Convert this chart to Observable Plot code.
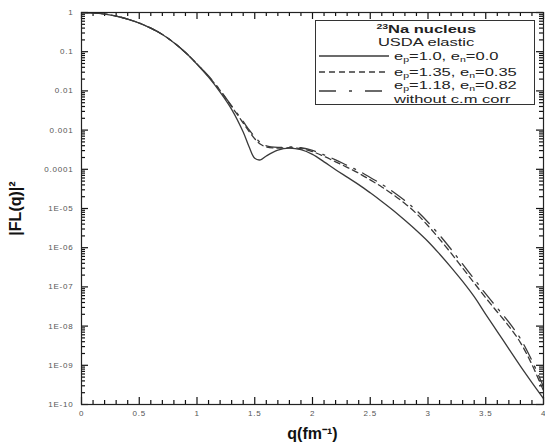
<!DOCTYPE html>
<html>
<head>
<meta charset="utf-8">
<script src="https://cdn.jsdelivr.net/npm/d3@7"></script>
<script src="https://cdn.jsdelivr.net/npm/@observablehq/plot@0.6"></script>
<style>
  body { margin: 0; background: #fff; }
  #wrap { position: relative; width: 545px; height: 444px; font-family: "Liberation Sans", Arial, sans-serif; }
  #chart > svg { position: absolute; left: 0; top: 0; }
  g[aria-label="y-axis label"] text, g[aria-label="x-axis label"] text { font-size: 16px; font-weight: bold; fill: #111; }
  g[aria-label="y-axis tick label"] text, g[aria-label="x-axis tick label"] text { letter-spacing: 0.8px; }
  #legend { position: absolute; left: 315px; top: 20px; width: 220px; height: 85px; border: 1.3px solid #333; background: #fff; box-sizing: border-box; color: #222; }
  #legend .c { position: absolute; left: 0; width: 220px; text-align: center; line-height: 11px; height: 11px; }
  #legend .c span { display: inline-block; transform: scaleX(1.5); }
  #legend .t1 { font-size: 11px; font-weight: bold; }
  #legend .t2 { font-size: 11px; }
  #legend .e { position: absolute; left: 78px; font-size: 11px; line-height: 12px; transform: scaleX(1.5); transform-origin: left center; white-space: nowrap; }
  #legend svg.s { position: absolute; left: 3px; }
  #legend sub { font-size: 7px; vertical-align: -2px; line-height: 0; }
  #legend sup { font-size: 7px; vertical-align: 4px; line-height: 0; }
</style>
</head>
<body>
<div id="wrap">
  <div id="chart"></div>
  <div id="legend"></div>
</div>
<script>
// ---- data ----
const qValues = [0, 0.1, 0.2, 0.3, 0.4, 0.5, 0.6, 0.7, 0.8, 0.9, 1.0, 1.1, 1.2, 1.3, 1.4, 1.45, 1.5, 1.55, 1.6, 1.7, 1.8, 1.9, 2.0, 2.1, 2.2, 2.3, 2.4, 2.5, 2.6, 2.7, 2.8, 2.9, 3.0, 3.1, 3.2, 3.3, 3.4, 3.5, 3.6, 3.7, 3.8, 3.9, 4.0];
// log10 |F_L(q)|^2
const logF_e10 = [0, -0.01, -0.04, -0.09, -0.17, -0.27, -0.40, -0.56, -0.77, -1.02, -1.32, -1.65, -2.03, -2.47, -3.05, -3.42, -3.72, -3.76, -3.66, -3.51, -3.46, -3.50, -3.62, -3.81, -4.01, -4.20, -4.39, -4.60, -4.82, -5.05, -5.30, -5.56, -5.84, -6.16, -6.50, -6.86, -7.25, -7.70, -8.14, -8.58, -9.02, -9.44, -9.85];
const logF_e135 = [0, -0.01, -0.04, -0.09, -0.17, -0.27, -0.40, -0.56, -0.77, -1.02, -1.31, -1.63, -1.99, -2.40, -2.82, -3.03, -3.22, -3.36, -3.43, -3.46, -3.45, -3.47, -3.55, -3.67, -3.81, -3.95, -4.10, -4.27, -4.45, -4.65, -4.87, -5.13, -5.44, -5.78, -6.14, -6.52, -6.90, -7.28, -7.64, -8.00, -8.42, -8.98, -9.65];
const logF_e118 = [0, -0.01, -0.04, -0.09, -0.17, -0.27, -0.40, -0.56, -0.77, -1.02, -1.31, -1.62, -1.98, -2.38, -2.78, -2.99, -3.17, -3.32, -3.40, -3.44, -3.43, -3.45, -3.52, -3.63, -3.76, -3.90, -4.04, -4.21, -4.38, -4.58, -4.80, -5.05, -5.35, -5.68, -6.04, -6.42, -6.80, -7.18, -7.54, -7.90, -8.32, -8.88, -9.55];

const xMajorTicks = [0, 0.5, 1, 1.5, 2, 2.5, 3, 3.5, 4];
const xTickLabels = ["0", "0.5", "1", "1.5", "2", "2.5", "3", "3.5", "4"];
const xMinorTicks = [0.1,0.2,0.3,0.4,0.6,0.7,0.8,0.9,1.1,1.2,1.3,1.4,1.6,1.7,1.8,1.9,2.1,2.2,2.3,2.4,2.6,2.7,2.8,2.9,3.1,3.2,3.3,3.4,3.6,3.7,3.8,3.9];
const yMajorTicks = [1, 1e-1, 1e-2, 1e-3, 1e-4, 1e-5, 1e-6, 1e-7, 1e-8, 1e-9, 1e-10];
const yTickLabels = ["1", "0.1", "0.01", "0.001", "0.0001", "1E-05", "1E-06", "1E-07", "1E-08", "1E-09", "1E-10"];
const yMinorMultipliers = [2, 3, 4, 5, 6, 7, 8, 9];

const seriesNames = ["e1.0", "e1.35", "e1.18"];
const xTitle = "q(fm\u207B\u00B9)";
const yTitle = "|FL(q)|\u00B2";

// ---- build ----
const rows = [];
[logF_e10, logF_e135, logF_e118].forEach((arr, i) => {
  arr.forEach((v, j) => rows.push({series: seriesNames[i], q: qValues[j], F: Math.pow(10, v)}));
});
const yMinorTicks = [];
for (let k = 1; k < yMajorTicks.length; k++) for (const m of yMinorMultipliers) yMinorTicks.push(m * yMajorTicks[k]);
const xFmt = d => xTickLabels[xMajorTicks.indexOf(d)];
const yFmt = d => yTickLabels[yMajorTicks.findIndex(t => Math.abs(Math.log10(t) - Math.log10(d)) < 1e-6)];

const W = 545, H = 444, ML = 81, MR = 2, MT = 12, MB = 40;
const FW = W - ML - MR, FH = H - MT - MB;

const lineColor = "#3a3a3a";
const styles = {
  "e1.0": {},
  "e1.35": {strokeDasharray: "6,4"},
  "e1.18": {strokeDasharray: "16,8,2,8"}
};

const tickStroke = "#111";
const major = 7, minor = 4;
const tk = {stroke: tickStroke, strokeWidth: 1.2};

const plot = Plot.plot({
  width: W,
  height: H,
  marginLeft: ML,
  marginRight: MR,
  marginTop: MT,
  marginBottom: MB,
  style: {fontFamily: "'Liberation Sans', Arial, sans-serif", fontSize: "8px", color: "#555", background: "transparent"},
  x: {domain: [0, 4]},
  y: {type: "log", domain: [1e-10, 1]},
  marks: [
    Plot.axisX({anchor: "bottom", ticks: xMajorTicks, tickFormat: xFmt, tickSize: 0, tickPadding: 6, label: xTitle, labelAnchor: "center", labelArrow: "none", labelOffset: 34}),
    Plot.axisY({anchor: "left", ticks: yMajorTicks, tickFormat: yFmt, tickSize: 0, tickPadding: 8, label: yTitle, labelAnchor: "center", labelArrow: "none", labelOffset: 72}),
    // inward ticks on all four sides
    Plot.tickX(xMajorTicks, {x: d => d, insetTop: FH - major, ...tk}),
    Plot.tickX(xMinorTicks, {x: d => d, insetTop: FH - minor, ...tk}),
    Plot.tickX(xMajorTicks, {x: d => d, insetBottom: FH - major, ...tk}),
    Plot.tickX(xMinorTicks, {x: d => d, insetBottom: FH - minor, ...tk}),
    Plot.tickY(yMajorTicks, {y: d => d, insetRight: FW - major, ...tk}),
    Plot.tickY(yMinorTicks, {y: d => d, insetRight: FW - minor, ...tk}),
    Plot.tickY(yMajorTicks, {y: d => d, insetLeft: FW - major, ...tk}),
    Plot.tickY(yMinorTicks, {y: d => d, insetLeft: FW - minor, ...tk}),
    ...seriesNames.map(s => Plot.line(rows.filter(r => r.series === s), {
      x: "q", y: "F", stroke: lineColor, strokeWidth: 1.3, curve: "catmull-rom", clip: true, ...styles[s]
    })),
    Plot.frame({stroke: "#222", strokeWidth: 1.2})
  ]
});
document.getElementById("chart").appendChild(plot);

// ---- legend (HTML overlay inside the plot frame) ----
const legendTitle = ["23", "Na nucleus"];
const legendSubtitle = "USDA elastic";
const legendEntries = [
  {series: "e1.0", html: "e<sub>p</sub>=1.0, e<sub>n</sub>=0.0", top: 29, lineY: 35},
  {series: "e1.35", html: "e<sub>p</sub>=1.35, e<sub>n</sub>=0.35", top: 45, lineY: 51},
  {series: "e1.18", html: "e<sub>p</sub>=1.18, e<sub>n</sub>=0.82<br>without c.m corr", top: 57, lineY: 70}
];
const lg = document.getElementById("legend");
lg.innerHTML =
  `<div class="c t1" style="top:3px"><span><sup>${legendTitle[0]}</sup>${legendTitle[1]}</span></div>` +
  `<div class="c t2" style="top:16px"><span>${legendSubtitle}</span></div>` +
  legendEntries.map(e => {
    const da = styles[e.series].strokeDasharray || "none";
    const sda = e.series === "e1.18" ? "17,13,3,13" : da;
    return `<svg class="s" width="70" height="6" style="top:${e.lineY - 3}px"><line x1="0" x2="70" y1="3" y2="3" stroke="${lineColor}" stroke-width="1.3" stroke-dasharray="${sda}"/></svg>` +
      `<div class="e" style="top:${e.top}px;line-height:${e.series === "e1.18" ? 14 : 12}px">${e.html}</div>`;
  }).join("");
</script>
</body>
</html>
